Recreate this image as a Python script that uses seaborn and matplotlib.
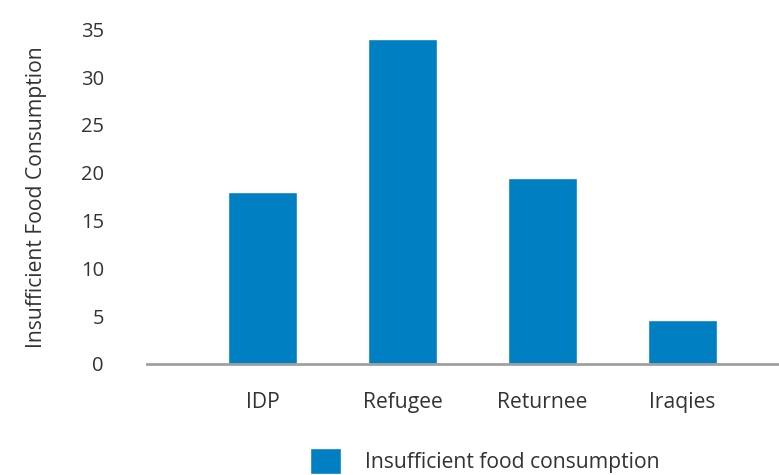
import matplotlib
matplotlib.use("Agg")
import matplotlib.pyplot as plt
import seaborn as sns
import pandas as pd

# Share of households with insufficient food consumption, by group
groups = ["IDP", "Refugee", "Returnee", "Iraqies"]
insufficient = [18.0, 34.0, 19.5, 4.6]
series_label = "Insufficient food consumption"
y_ticks = [0, 5, 10, 15, 20, 25, 30, 35]

df = pd.DataFrame({"group": groups, "value": insufficient})

sns.set_theme(style="white")
plt.rcParams["font.family"] = ["Open Sans", "DejaVu Sans"]

BLUE = "#0080C3"
TEXT = "#333333"
FS = 15.2

fig = plt.figure(figsize=(7.79, 4.75), dpi=100)
ax = fig.add_axes([0.1887, 0.2337, 0.8113, 0.7046])

sns.barplot(data=df, x="group", y="value", color=BLUE, width=0.49,
            saturation=1, ax=ax, label=series_label)

ax.set_ylim(0, 35)
ax.set_xlim(-0.825, 3.69)
ax.set_yticks(y_ticks)
ax.set_yticklabels([str(t) for t in y_ticks])

ax.tick_params(axis="y", length=0, pad=31, labelsize=14.5, labelcolor=TEXT)
ax.tick_params(axis="x", length=0, pad=20, labelsize=FS, labelcolor=TEXT)

ax.set_xlabel("")
ax.set_ylabel("Insufficient Food Consumption", fontsize=FS, color=TEXT, labelpad=24)

for side in ["top", "right", "left"]:
    ax.spines[side].set_visible(False)
ax.spines["bottom"].set_color("#A0A0A0")
ax.spines["bottom"].set_linewidth(2.0)

handles, labels = ax.get_legend_handles_labels()
if ax.get_legend() is not None:
    ax.get_legend().remove()
fig.legend(handles, labels, loc="center left", bbox_to_anchor=(310 / 779, 1 - 461 / 475),
           frameon=False, fontsize=FS, handlelength=1.46, handleheight=1.5,
           handletextpad=1.15, labelcolor=TEXT, borderaxespad=0, borderpad=0)

fig.savefig("out.png", dpi=100)
